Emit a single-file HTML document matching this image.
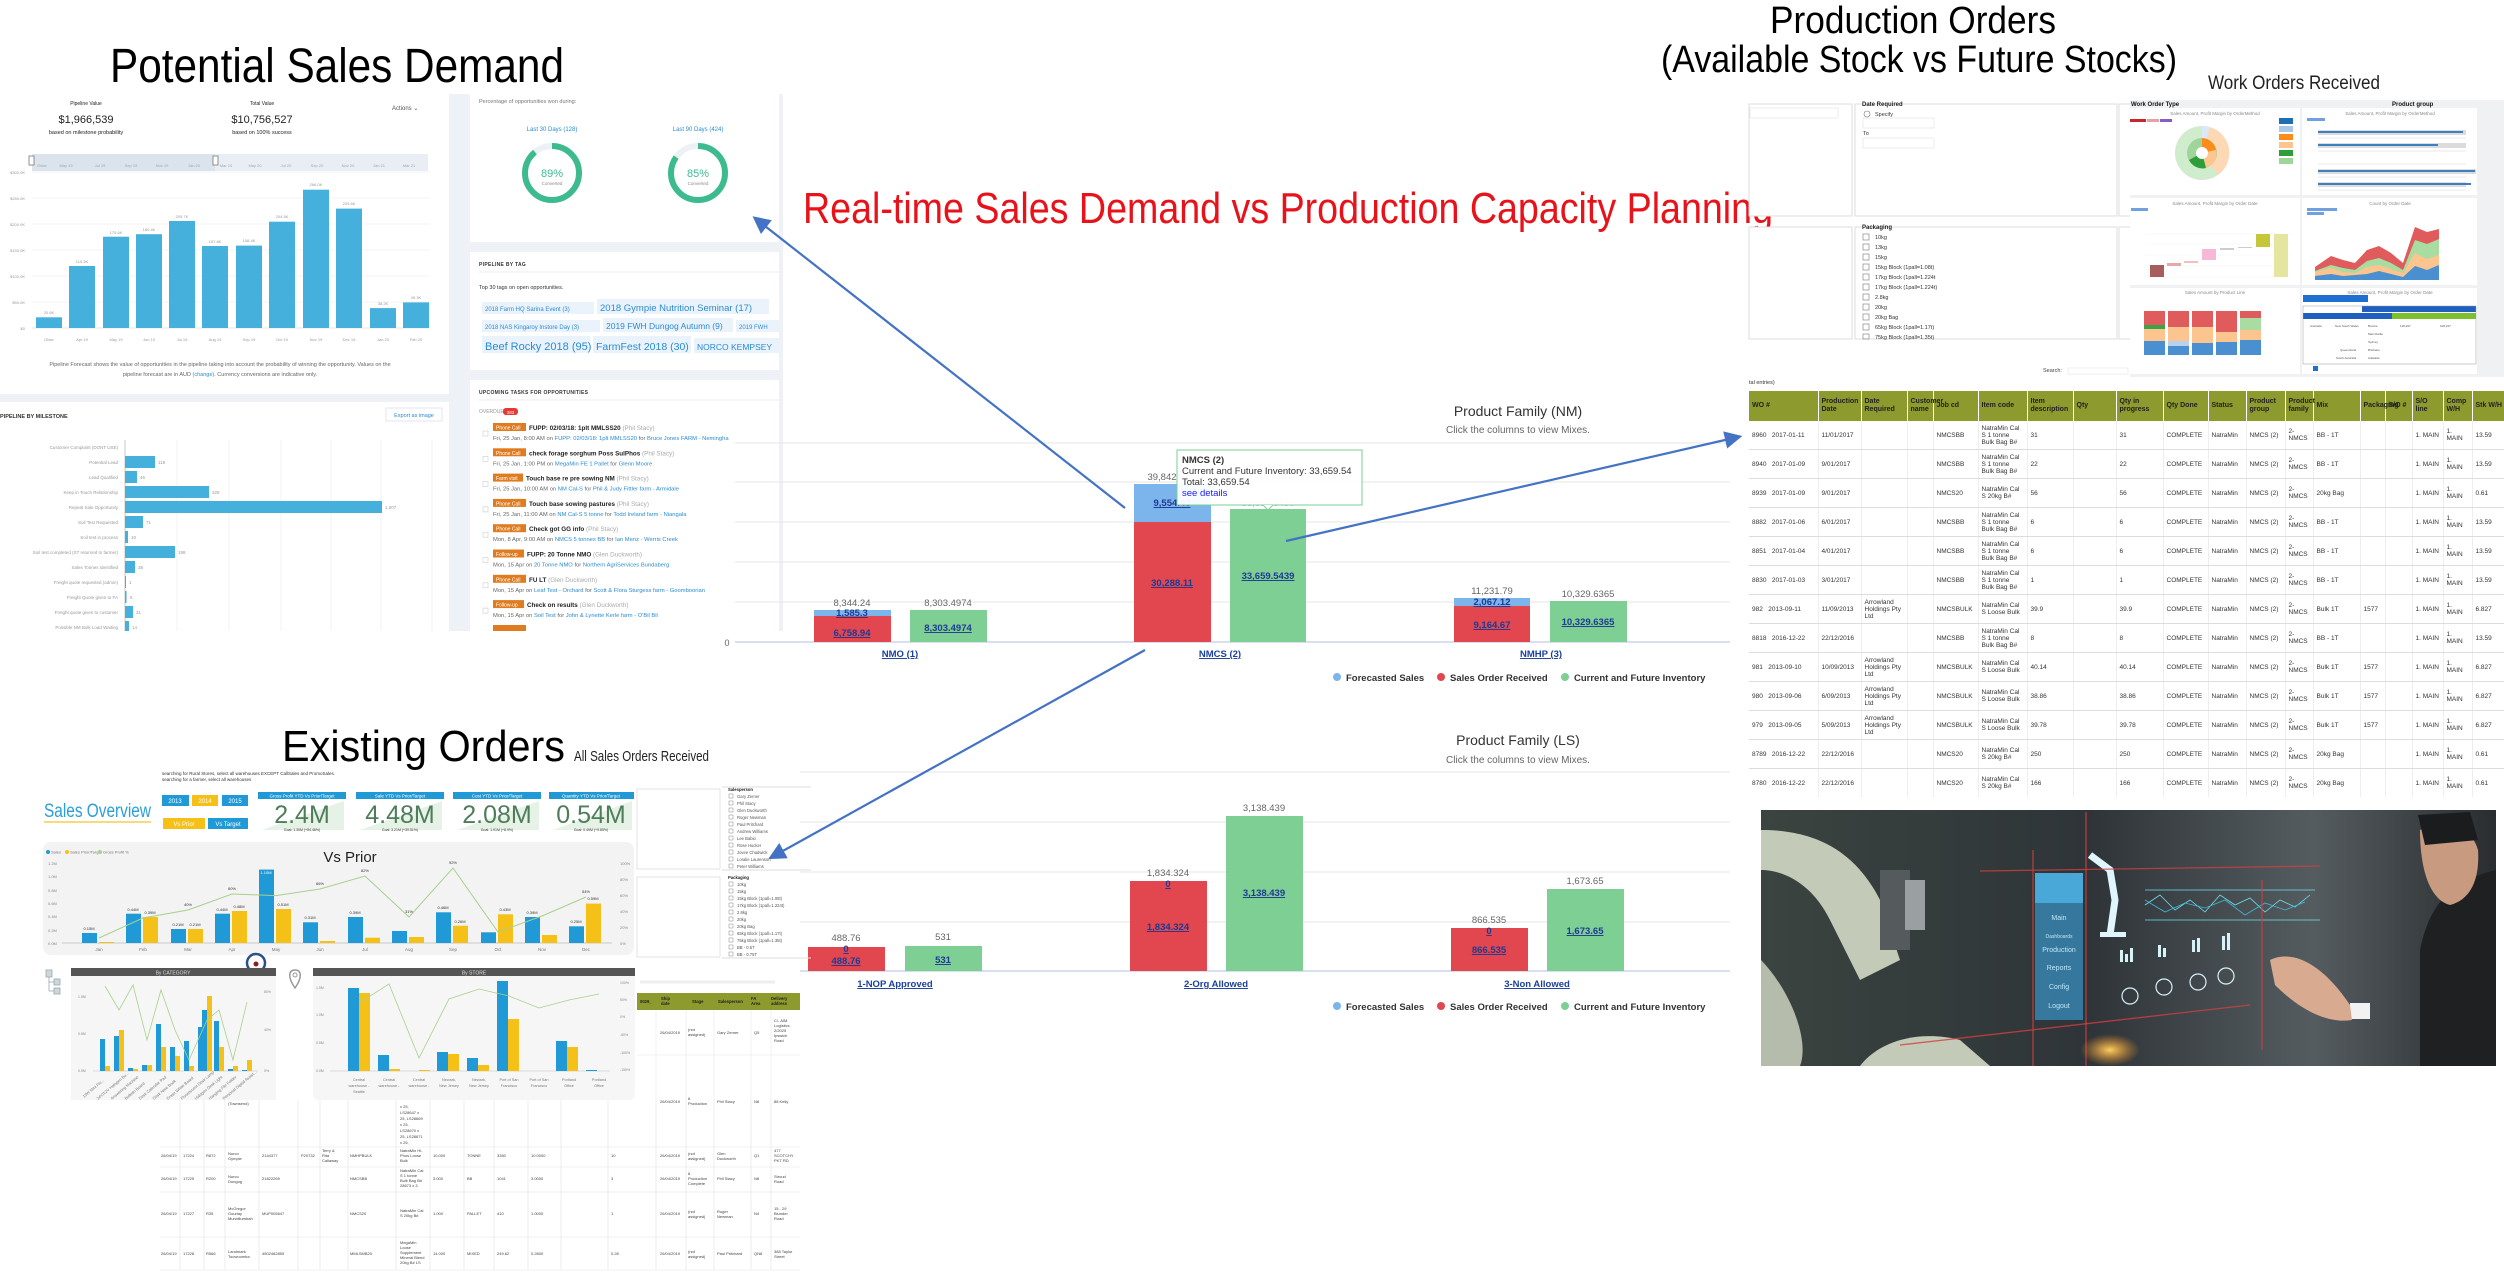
<!DOCTYPE html>
<html><head><meta charset="utf-8"><style>
html,body{margin:0;padding:0;background:#fff;}
body{width:2504px;height:1282px;position:relative;overflow:hidden;font-family:"Liberation Sans",sans-serif;}
svg{position:absolute;left:0;top:0;}
.wo{position:absolute;left:1749px;top:391px;width:755px;height:406px;overflow:hidden;}
.wo table{border-collapse:collapse;table-layout:fixed;width:758px;font-size:6.5px;color:#333;}
.wo th{background:#8c9a2e;color:#222;height:30px;font-weight:bold;text-align:left;padding:0 3px;border-right:1px solid #fff;font-size:7px;line-height:8px;}
.wo td{height:28px;border-bottom:1px solid #ddd;border-right:1px solid #eee;padding:0 3px;line-height:7px;}
</style></head><body>
<svg width="2504" height="1282" viewBox="0 0 2504 1282" font-family="Liberation Sans, sans-serif">
<!-- ======= TITLES ======= -->
<text x="110" y="82" font-size="48" textLength="454" lengthAdjust="spacingAndGlyphs" fill="#000">Potential Sales Demand</text>
<text x="1770" y="33" font-size="38" textLength="286" lengthAdjust="spacingAndGlyphs" fill="#000">Production Orders</text>
<text x="1661" y="72" font-size="38" textLength="516" lengthAdjust="spacingAndGlyphs" fill="#000">(Available Stock vs Future Stocks)</text>
<text x="2208" y="89" font-size="19" textLength="172" lengthAdjust="spacingAndGlyphs" fill="#222">Work Orders Received</text>
<text x="803" y="223" font-size="44" textLength="970" lengthAdjust="spacingAndGlyphs" fill="#e8131a">Real-time Sales Demand vs Production Capacity Planning</text>
<text x="282" y="761" font-size="44" textLength="283" lengthAdjust="spacingAndGlyphs" fill="#000">Existing Orders</text>
<text x="574" y="761" font-size="15" textLength="135" lengthAdjust="spacingAndGlyphs" fill="#222">All Sales Orders Received</text>

<!-- ======= TOP LEFT DASHBOARD ======= -->
<rect x="0" y="94" width="783" height="537" fill="#eef1f6"/>
<rect x="0" y="94" width="449" height="300" fill="#fff"/>
<rect x="0" y="402" width="449" height="229" fill="#fff"/>
<rect x="470" y="94" width="309" height="148" fill="#fff"/>
<rect x="470" y="252" width="309" height="118" fill="#fff"/>
<rect x="470" y="380" width="309" height="251" fill="#fff"/>
<g text-anchor="middle" fill="#222">
<text x="86" y="105" font-size="5">Pipeline Value</text>
<text x="86" y="123" font-size="11">$1,966,539</text>
<text x="86" y="134" font-size="5.5">based on milestone probability</text>
<text x="262" y="105" font-size="5">Total Value</text>
<text x="262" y="123" font-size="11">$10,756,527</text>
<text x="262" y="134" font-size="5.5">based on 100% success</text>
</g>
<text x="392" y="110" font-size="6" fill="#555">Actions ⌄</text>
<rect x="32" y="154" width="396" height="17" fill="#e9eef4"/>
<rect x="32" y="154" width="183" height="17" fill="#dbe3ed"/>
<rect x="29" y="156" width="5" height="9" fill="#fff" stroke="#777" stroke-width="0.8"/>
<rect x="213" y="156" width="5" height="9" fill="#fff" stroke="#777" stroke-width="0.8"/>
<g font-size="4" fill="#9aa" text-anchor="middle">
<text x="42" y="167">Older</text><text x="66" y="167">May 19</text><text x="100" y="167">Jul 19</text><text x="131" y="167">Sep 19</text><text x="162" y="167">Nov 19</text><text x="194" y="167">Jan 20</text><text x="226" y="167">Mar 20</text><text x="255" y="167">May 20</text><text x="286" y="167">Jul 20</text><text x="317" y="167">Sep 20</text><text x="348" y="167">Nov 20</text><text x="379" y="167">Jan 21</text><text x="409" y="167">Mar 21</text>
</g>
<g stroke="#eceff3" stroke-width="0.7">
<line x1="32" y1="172" x2="430" y2="172"/><line x1="32" y1="198" x2="430" y2="198"/><line x1="32" y1="224" x2="430" y2="224"/><line x1="32" y1="250" x2="430" y2="250"/><line x1="32" y1="276" x2="430" y2="276"/><line x1="32" y1="302" x2="430" y2="302"/><line x1="32" y1="328" x2="430" y2="328" stroke="#ddd"/>
</g>
<g font-size="4" fill="#999" text-anchor="end">
<text x="25" y="174">$300.0K</text><text x="25" y="200">$250.0K</text><text x="25" y="226">$200.0K</text><text x="25" y="252">$150.0K</text><text x="25" y="278">$100.0K</text><text x="25" y="304">$50.0K</text><text x="25" y="330">$0</text>
</g>
<g fill="#45b0dc">
<rect x="36" y="317.3" width="26" height="10.7"/><rect x="69" y="266" width="26" height="62"/><rect x="103" y="236.7" width="26" height="91.3"/><rect x="136" y="234.2" width="26" height="93.8"/><rect x="169" y="221" width="26" height="107"/><rect x="202" y="246" width="26" height="82"/><rect x="236" y="245.6" width="26" height="82.4"/><rect x="269" y="221.7" width="26" height="106.3"/><rect x="303" y="189.7" width="26" height="138.3"/><rect x="336" y="208.6" width="26" height="119.4"/><rect x="370" y="308.1" width="26" height="19.9"/><rect x="403" y="302.4" width="26" height="25.6"/>
</g>
<g font-size="4" fill="#999" text-anchor="middle">
<text x="49" y="314">20.6K</text><text x="82" y="263">119.3K</text><text x="116" y="234">175.6K</text><text x="149" y="231">180.4K</text><text x="182" y="218">205.7K</text><text x="215" y="243">157.8K</text><text x="249" y="242">158.4K</text><text x="282" y="218">204.5K</text><text x="316" y="186">266.0K</text><text x="349" y="205">229.6K</text><text x="383" y="305">38.2K</text><text x="416" y="299">49.3K</text>
<text x="49" y="341">Older</text><text x="82" y="341">Apr 19</text><text x="116" y="341">May 19</text><text x="149" y="341">Jun 19</text><text x="182" y="341">Jul 19</text><text x="215" y="341">Aug 19</text><text x="249" y="341">Sep 19</text><text x="282" y="341">Oct 19</text><text x="316" y="341">Nov 19</text><text x="349" y="341">Dec 19</text><text x="383" y="341">Jan 20</text><text x="416" y="341">Feb 20</text>
</g>
<text x="220" y="366" font-size="5.5" fill="#666" text-anchor="middle">Pipeline Forecast shows the value of opportunities in the pipeline taking into account the probability of winning the opportunity. Values on the</text>
<text x="220" y="376" font-size="5.5" fill="#666" text-anchor="middle">pipeline forecast are in AUD <tspan fill="#2a8bd1">(change)</tspan>. Currency conversions are indicative only.</text>
<text x="0" y="418" font-size="5.5" font-weight="bold" fill="#333">PIPELINE BY MILESTONE</text>
<rect x="386" y="408" width="56" height="13" fill="#fff" stroke="#dde" stroke-width="0.8"/>
<text x="414" y="417" font-size="5.5" fill="#2a8bd1" text-anchor="middle">Export as image</text>
<g stroke="#eceff3" stroke-width="0.7"><line x1="177" y1="440" x2="177" y2="631"/><line x1="229" y1="440" x2="229" y2="631"/><line x1="281" y1="440" x2="281" y2="631"/><line x1="331" y1="440" x2="331" y2="631"/><line x1="381" y1="440" x2="381" y2="631"/><line x1="432" y1="440" x2="432" y2="631"/></g>
<line x1="125" y1="440" x2="125" y2="631" stroke="#bbb" stroke-width="0.8"/>
<g font-size="4.5" fill="#999" text-anchor="end">
<text x="118" y="449">Customer Complaint (DONT USE)</text><text x="118" y="464">Potential Lead</text><text x="118" y="479">Lead Qualified</text><text x="118" y="494">Keep in Touch Relationship</text><text x="118" y="509">Repeat Sale Opportunity</text><text x="118" y="524">Soil Test Requested</text><text x="118" y="539">Soil test in process</text><text x="118" y="554">Soil test completed (ST returned to farmer)</text><text x="118" y="569">Sales Tonnes Identified</text><text x="118" y="584">Freight quote requested (admin)</text><text x="118" y="599">Freight Quote given to FA</text><text x="118" y="614">Freight quote given to customer</text><text x="118" y="629">Possible NM Bulk Load Waiting</text>
</g>
<g fill="#45b0dc">
<rect x="125" y="456" width="30" height="12"/><rect x="125" y="471" width="12" height="12"/><rect x="125" y="486" width="84" height="12"/><rect x="125" y="501" width="257" height="12"/><rect x="125" y="516" width="18" height="12"/><rect x="125" y="531" width="3" height="12"/><rect x="125" y="546" width="50" height="12"/><rect x="125" y="561" width="10" height="12"/><rect x="125" y="576" width="1" height="12"/><rect x="125" y="591" width="1.5" height="12"/><rect x="125" y="606" width="8" height="12"/><rect x="125" y="621" width="4" height="10"/>
</g>
<g font-size="4.5" fill="#999"><text x="158" y="464">118</text><text x="140" y="479">46</text><text x="212" y="494">328</text><text x="385" y="509">1,007</text><text x="146" y="524">71</text><text x="131" y="539">10</text><text x="178" y="554">198</text><text x="138" y="569">38</text><text x="129" y="584">1</text><text x="130" y="599">5</text><text x="136" y="614">31</text><text x="132" y="629">14</text></g>
<!-- right column -->
<text x="479" y="103" font-size="5.5" fill="#777">Percentage of opportunities won during:</text>
<text x="552" y="131" font-size="6" fill="#2a8bd1" text-anchor="middle">Last 30 Days (128)</text>
<text x="698" y="131" font-size="6" fill="#2a8bd1" text-anchor="middle">Last 90 Days (424)</text>
<circle cx="552" cy="173" r="27" fill="none" stroke="#edf1f5" stroke-width="6"/>
<circle cx="552" cy="173" r="27" fill="none" stroke="#3dbb8f" stroke-width="6" stroke-dasharray="151 170" transform="rotate(-90 552 173)"/>
<circle cx="698" cy="173" r="27" fill="none" stroke="#edf1f5" stroke-width="6"/>
<circle cx="698" cy="173" r="27" fill="none" stroke="#3dbb8f" stroke-width="6" stroke-dasharray="144 170" transform="rotate(-90 698 173)"/>
<text x="552" y="177" font-size="11" fill="#3dbb8f" text-anchor="middle">89%</text><text x="552" y="185" font-size="4.5" fill="#888" text-anchor="middle">Converted</text>
<text x="698" y="177" font-size="11" fill="#3dbb8f" text-anchor="middle">85%</text><text x="698" y="185" font-size="4.5" fill="#888" text-anchor="middle">Converted</text>
<text x="479" y="266" font-size="5" font-weight="bold" fill="#333" letter-spacing="0.3">PIPELINE BY TAG</text>
<line x1="479" y1="272" x2="779" y2="272" stroke="#eee"/>
<text x="479" y="289" font-size="5.5" fill="#333">Top 30 tags on open opportunities.</text>
<g fill="#eaf3fb"><rect x="482" y="302" width="112" height="12"/><rect x="597" y="299" width="172" height="15"/><rect x="482" y="320" width="118" height="12"/><rect x="603" y="318" width="130" height="14"/><rect x="736" y="320" width="43" height="12"/><rect x="482" y="336" width="108" height="17"/><rect x="593" y="336" width="98" height="17"/><rect x="694" y="338" width="85" height="15"/></g>
<g fill="#2a8bd1"><text x="485" y="311" font-size="6">2018 Farm HQ Sarina Event (3)</text><text x="600" y="311" font-size="9.5">2018 Gympie Nutrition Seminar (17)</text><text x="485" y="329" font-size="6">2018 NAS Kingaroy Instore Day (3)</text><text x="606" y="329" font-size="8.5">2019 FWH Dungog Autumn (9)</text><text x="739" y="329" font-size="6">2019 FWH</text><text x="485" y="350" font-size="11">Beef Rocky 2018 (95)</text><text x="596" y="350" font-size="10.5">FarmFest 2018 (30)</text><text x="697" y="350" font-size="8.5">NORCO KEMPSEY</text></g>
<text x="479" y="394" font-size="5" font-weight="bold" fill="#333" letter-spacing="0.3">UPCOMING TASKS FOR OPPORTUNITIES</text>
<line x1="479" y1="400" x2="779" y2="400" stroke="#eee"/>
<text x="479" y="413" font-size="5" fill="#999">OVERDUE</text><rect x="503" y="408" width="15" height="7" rx="3" fill="#e53935"/><text x="510.5" y="414" font-size="4.5" fill="#fff" text-anchor="middle">283</text>
<g font-size="6.3">
<g transform="translate(0,0)"><rect x="483" y="431" width="5" height="5" fill="none" stroke="#ccc" stroke-width="0.6"/><rect x="493" y="423" width="33" height="8" fill="#e07b1f"/><text x="496" y="429.5" font-size="5" fill="#fff">Phone Call</text><text x="529" y="430" font-weight="bold" fill="#222">FUPP: 02/03/18: 1plt MMLSS20 <tspan font-weight="normal" fill="#aaa">(Phil Stacy)</tspan></text><text x="493" y="440" font-size="5.8" fill="#666">Fri, 25 Jan, 8:00 AM on <tspan fill="#2a8bd1">FUPP: 02/03/18: 1plt MMLSS20</tspan> for <tspan fill="#2a8bd1">Bruce Jones FARM - Nemingha</tspan></text></g>
<g transform="translate(0,25.3)"><rect x="483" y="431" width="5" height="5" fill="none" stroke="#ccc" stroke-width="0.6"/><rect x="493" y="423" width="33" height="8" fill="#e07b1f"/><text x="496" y="429.5" font-size="5" fill="#fff">Phone Call</text><text x="529" y="430" font-weight="bold" fill="#222">check forage sorghum Poss SulPhos <tspan font-weight="normal" fill="#aaa">(Phil Stacy)</tspan></text><text x="493" y="440" font-size="5.8" fill="#666">Fri, 25 Jan, 1:00 PM on <tspan fill="#2a8bd1">MegaMin FE 1 Pallet</tspan> for <tspan fill="#2a8bd1">Glenn Moore</tspan></text></g>
<g transform="translate(0,50.6)"><rect x="483" y="431" width="5" height="5" fill="none" stroke="#ccc" stroke-width="0.6"/><rect x="493" y="423" width="30" height="8" fill="#e07b1f"/><text x="496" y="429.5" font-size="5" fill="#fff">Farm visit</text><text x="526" y="430" font-weight="bold" fill="#222">Touch base re pre sowing NM <tspan font-weight="normal" fill="#aaa">(Phil Stacy)</tspan></text><text x="493" y="440" font-size="5.8" fill="#666">Fri, 25 Jan, 10:00 AM on <tspan fill="#2a8bd1">NM Cal-S</tspan> for <tspan fill="#2a8bd1">Phil &amp; Judy Fittler farm - Armidale</tspan></text></g>
<g transform="translate(0,75.9)"><rect x="483" y="431" width="5" height="5" fill="none" stroke="#ccc" stroke-width="0.6"/><rect x="493" y="423" width="33" height="8" fill="#e07b1f"/><text x="496" y="429.5" font-size="5" fill="#fff">Phone Call</text><text x="529" y="430" font-weight="bold" fill="#222">Touch base sowing pastures <tspan font-weight="normal" fill="#aaa">(Phil Stacy)</tspan></text><text x="493" y="440" font-size="5.8" fill="#666">Fri, 25 Jan, 11:00 AM on <tspan fill="#2a8bd1">NM Cal-S 5 tonne</tspan> for <tspan fill="#2a8bd1">Todd Ireland farm - Niangala</tspan></text></g>
<g transform="translate(0,101.2)"><rect x="483" y="431" width="5" height="5" fill="none" stroke="#ccc" stroke-width="0.6"/><rect x="493" y="423" width="33" height="8" fill="#e07b1f"/><text x="496" y="429.5" font-size="5" fill="#fff">Phone Call</text><text x="529" y="430" font-weight="bold" fill="#222">Check got GG info <tspan font-weight="normal" fill="#aaa">(Phil Stacy)</tspan></text><text x="493" y="440" font-size="5.8" fill="#666">Mon, 8 Apr, 9:00 AM on <tspan fill="#2a8bd1">NMCS 5 tonnes BB</tspan> for <tspan fill="#2a8bd1">Ian Menz - Werris Creek</tspan></text></g>
<g transform="translate(0,126.5)"><rect x="483" y="431" width="5" height="5" fill="none" stroke="#ccc" stroke-width="0.6"/><rect x="493" y="423" width="31" height="8" fill="#e07b1f"/><text x="496" y="429.5" font-size="5" fill="#fff">Follow-up</text><text x="527" y="430" font-weight="bold" fill="#222">FUPP: 20 Tonne NMO <tspan font-weight="normal" fill="#aaa">(Glen Duckworth)</tspan></text><text x="493" y="440" font-size="5.8" fill="#666">Mon, 15 Apr on <tspan fill="#2a8bd1">20 Tonne NMO</tspan> for <tspan fill="#2a8bd1">Northern AgriServices Bundaberg</tspan></text></g>
<g transform="translate(0,151.8)"><rect x="483" y="431" width="5" height="5" fill="none" stroke="#ccc" stroke-width="0.6"/><rect x="493" y="423" width="33" height="8" fill="#e07b1f"/><text x="496" y="429.5" font-size="5" fill="#fff">Phone Call</text><text x="529" y="430" font-weight="bold" fill="#222">FU LT <tspan font-weight="normal" fill="#aaa">(Glen Duckworth)</tspan></text><text x="493" y="440" font-size="5.8" fill="#666">Mon, 15 Apr on <tspan fill="#2a8bd1">Leaf Test - Orchard</tspan> for <tspan fill="#2a8bd1">Scott &amp; Flora Sturgess farm - Goomboorian</tspan></text></g>
<g transform="translate(0,177.1)"><rect x="483" y="431" width="5" height="5" fill="none" stroke="#ccc" stroke-width="0.6"/><rect x="493" y="423" width="31" height="8" fill="#e07b1f"/><text x="496" y="429.5" font-size="5" fill="#fff">Follow-up</text><text x="527" y="430" font-weight="bold" fill="#222">Check on results <tspan font-weight="normal" fill="#aaa">(Glen Duckworth)</tspan></text><text x="493" y="440" font-size="5.8" fill="#666">Mon, 15 Apr on <tspan fill="#2a8bd1">Soil Test</tspan> for <tspan fill="#2a8bd1">John &amp; Lynette Kerle farm - O'Bil Bil</tspan></text></g>
<rect x="493" y="625" width="33" height="6" fill="#e07b1f"/>
</g>

<!-- ======= MIDDLE NM CHART ======= -->
<text x="1518" y="416" font-size="14" fill="#333" text-anchor="middle">Product Family (NM)</text>
<text x="1518" y="433" font-size="10" fill="#666" text-anchor="middle">Click the columns to view Mixes.</text>
<g stroke="#e6e6e6" stroke-width="1"><line x1="735" y1="443" x2="1730" y2="443"/><line x1="735" y1="482" x2="1730" y2="482"/><line x1="735" y1="522" x2="1730" y2="522"/><line x1="735" y1="562" x2="1730" y2="562"/><line x1="735" y1="602" x2="1730" y2="602"/></g>
<line x1="735" y1="642" x2="1730" y2="642" stroke="#ccd6eb" stroke-width="1.5"/>
<text x="727" y="646" font-size="9" fill="#666" text-anchor="middle">0</text>
<rect x="814" y="610" width="77" height="6" fill="#7cb5ec"/><rect x="814" y="616" width="77" height="26" fill="#e2464f"/><rect x="910" y="610" width="77" height="32" fill="#7ecf94"/>
<rect x="1134" y="484" width="77" height="38" fill="#7cb5ec"/><rect x="1134" y="522" width="77" height="120" fill="#e2464f"/><rect x="1230" y="509" width="76" height="133" fill="#7ecf94"/>
<rect x="1454" y="598" width="76" height="8" fill="#7cb5ec"/><rect x="1454" y="606" width="76" height="36" fill="#e2464f"/><rect x="1550" y="601" width="77" height="41" fill="#7ecf94"/>
<g font-size="9.5" fill="#666" text-anchor="middle">
<text x="852" y="606">8,344.24</text><text x="948" y="606">8,303.4974</text><text x="1162" y="480">39,842</text><text x="1268" y="506" fill="#bbb">33,659.5439</text><text x="1492" y="594">11,231.79</text><text x="1588" y="597">10,329.6365</text>
</g>
<g font-size="9.5" fill="#1f3a93" text-anchor="middle" font-weight="bold" text-decoration="underline">
<text x="852" y="616">1,585.3</text><text x="852" y="636">6,758.94</text><text x="948" y="631">8,303.4974</text>
<text x="1172" y="506">9,554.43</text><text x="1172" y="586">30,288.11</text><text x="1268" y="579">33,659.5439</text>
<text x="1492" y="605">2,067.12</text><text x="1492" y="628">9,164.67</text><text x="1588" y="625">10,329.6365</text>
</g>
<g font-size="9.5" fill="#1a3f9c" text-anchor="middle" text-decoration="underline" font-weight="bold">
<text x="900" y="657">NMO (1)</text><text x="1220" y="657">NMCS (2)</text><text x="1541" y="657">NMHP (3)</text>
</g>
<g font-size="9.5" fill="#333" font-weight="bold">
<circle cx="1337" cy="677" r="4" fill="#7cb5ec"/><text x="1346" y="681">Forecasted Sales</text>
<circle cx="1441" cy="677" r="4" fill="#e2464f"/><text x="1450" y="681">Sales Order Received</text>
<circle cx="1565" cy="677" r="4" fill="#7ecf94"/><text x="1574" y="681">Current and Future Inventory</text>
</g>
<rect x="1177" y="450" width="185" height="55" fill="#fff" fill-opacity="0.95" stroke="#7ecf94" stroke-width="1"/>
<path d="M1263 505 L1268 510 L1273 505" fill="#fff" stroke="#7ecf94"/>
<g font-size="9.5" fill="#333"><text x="1182" y="463" font-weight="bold">NMCS (2)</text><text x="1182" y="474">Current and Future Inventory: 33,659.54</text><text x="1182" y="485">Total: 33,659.54</text><text x="1182" y="496" fill="#1a1aff">see details</text></g>

<!-- ======= MIDDLE LS CHART ======= -->
<text x="1518" y="745" font-size="14" fill="#333" text-anchor="middle">Product Family (LS)</text>
<text x="1518" y="763" font-size="10" fill="#666" text-anchor="middle">Click the columns to view Mixes.</text>
<g stroke="#e6e6e6" stroke-width="1"><line x1="800" y1="772" x2="1730" y2="772"/><line x1="800" y1="822" x2="1730" y2="822"/><line x1="800" y1="872" x2="1730" y2="872"/><line x1="800" y1="922" x2="1730" y2="922"/></g>
<line x1="800" y1="971" x2="1730" y2="971" stroke="#ccd6eb" stroke-width="1.5"/>
<rect x="808" y="947" width="77" height="24" fill="#e2464f"/><rect x="905" y="946" width="77" height="25" fill="#7ecf94"/>
<rect x="1130" y="881" width="77" height="90" fill="#e2464f"/><rect x="1226" y="816" width="77" height="155" fill="#7ecf94"/>
<rect x="1451" y="928" width="77" height="43" fill="#e2464f"/><rect x="1547" y="889" width="77" height="82" fill="#7ecf94"/>
<g font-size="9.5" fill="#666" text-anchor="middle">
<text x="846" y="941">488.76</text><text x="943" y="940">531</text><text x="1168" y="876">1,834.324</text><text x="1264" y="811">3,138.439</text><text x="1489" y="923">866.535</text><text x="1585" y="884">1,673.65</text>
</g>
<g font-size="9.5" fill="#1f3a93" text-anchor="middle" font-weight="bold" text-decoration="underline">
<text x="846" y="952">0</text><text x="846" y="964">488.76</text><text x="943" y="963">531</text>
<text x="1168" y="887">0</text><text x="1168" y="930">1,834.324</text><text x="1264" y="896">3,138.439</text>
<text x="1489" y="934">0</text><text x="1489" y="953">866.535</text><text x="1585" y="934">1,673.65</text>
</g>
<g font-size="9.5" fill="#1a3f9c" text-anchor="middle" text-decoration="underline" font-weight="bold">
<text x="895" y="987">1-NOP Approved</text><text x="1216" y="987">2-Org Allowed</text><text x="1537" y="987">3-Non Allowed</text>
</g>
<g font-size="9.5" fill="#333" font-weight="bold">
<circle cx="1337" cy="1006" r="4" fill="#7cb5ec"/><text x="1346" y="1010">Forecasted Sales</text>
<circle cx="1441" cy="1006" r="4" fill="#e2464f"/><text x="1450" y="1010">Sales Order Received</text>
<circle cx="1565" cy="1006" r="4" fill="#7ecf94"/><text x="1574" y="1010">Current and Future Inventory</text>
</g>

<!-- ======= EXISTING ORDERS DASHBOARD ======= -->
<text x="162" y="775" font-size="4.5" fill="#333">searching for Rural Stores, select all warehouses EXCEPT CallSales and PromoSales.</text>
<text x="162" y="781" font-size="4.5" fill="#333">searching for a farmer, select all warehouses</text>
<text x="44" y="817" font-size="19" fill="#2a9fd8" textLength="107" lengthAdjust="spacingAndGlyphs">Sales Overview</text>
<line x1="44" y1="822" x2="151" y2="822" stroke="#f4c430" stroke-width="1.2"/>
<rect x="162" y="795" width="27" height="11" fill="#1f9ad6"/><rect x="192" y="795" width="26" height="11" fill="#f5c018"/><rect x="222" y="795" width="26" height="11" fill="#1f9ad6"/>
<g font-size="6" fill="#fff" text-anchor="middle"><text x="175" y="803">2013</text><text x="205" y="803">2014</text><text x="235" y="803">2015</text></g>
<rect x="163" y="818" width="42" height="11" fill="#f5c018"/><rect x="208" y="818" width="40" height="11" fill="#1f9ad6"/>
<g font-size="6" fill="#fff" text-anchor="middle"><text x="184" y="826">Vs Prior</text><text x="228" y="826">Vs Target</text></g>
<g>
<rect x="258" y="792" width="88" height="41" fill="#fff"/><rect x="258" y="792" width="88" height="7" fill="#1f9ad6"/><path d="M262 830 L344 830 L344 801 Z" fill="#e6f2e6"/>
<rect x="356" y="792" width="88" height="41" fill="#fff"/><rect x="356" y="792" width="88" height="7" fill="#1f9ad6"/><path d="M360 830 L442 830 L442 801 Z" fill="#e6f2e6"/>
<rect x="453" y="792" width="88" height="41" fill="#fff"/><rect x="453" y="792" width="88" height="7" fill="#1f9ad6"/><path d="M457 830 L539 830 L539 801 Z" fill="#e6f2e6"/>
<rect x="549" y="792" width="85" height="41" fill="#fff"/><rect x="549" y="792" width="85" height="7" fill="#1f9ad6"/><path d="M553 830 L632 830 L632 801 Z" fill="#e6f2e6"/>
<g font-size="4.5" fill="#fff" text-anchor="middle"><text x="302" y="797.5">Gross Profit YTD Vs Prior/Target</text><text x="400" y="797.5">Sale YTD Vs Prior/Target</text><text x="497" y="797.5">Cost YTD Vs Prior/Target</text><text x="591" y="797.5">Quantity YTD Vs Prior/Target</text></g>
<g font-size="25" fill="#4d7d5a" text-anchor="middle"><text x="302" y="823">2.4M</text><text x="400" y="823">4.48M</text><text x="497" y="823">2.08M</text><text x="591" y="823">0.54M</text></g>
<g font-size="3.5" fill="#333" text-anchor="middle"><text x="302" y="831">Goal: 1.30M (+84.46%)</text><text x="400" y="831">Goal: 3.21M (+39.51%)</text><text x="497" y="831">Goal: 1.91M (+8.9%)</text><text x="591" y="831">Goal: 0.49M (+9.85%)</text></g>
</g>
<rect x="43" y="842" width="591" height="113" rx="8" fill="#f3f3f3"/>
<text x="350" y="862" font-size="15" fill="#222" text-anchor="middle">Vs Prior</text>
<g font-size="4" fill="#777"><circle cx="48" cy="852" r="2" fill="#1f9ad6"/><text x="51" y="853.5">Sales</text><circle cx="67" cy="852" r="2" fill="#f5c018"/><text x="70" y="853.5">Sales Prior/Target</text><circle cx="100" cy="852" r="2" fill="#a8d08d"/><text x="103" y="853.5">Gross Profit %</text></g>
<g font-size="4" fill="#888"><text x="48" y="865">1.2M</text><text x="48" y="878">1.0M</text><text x="48" y="892">0.8M</text><text x="48" y="905">0.6M</text><text x="48" y="918">0.4M</text><text x="48" y="932">0.2M</text><text x="48" y="945">0.0M</text>
<text x="620" y="865">100%</text><text x="620" y="881">80%</text><text x="620" y="897">60%</text><text x="620" y="913">40%</text><text x="620" y="929">20%</text><text x="620" y="945">0%</text></g>
<line x1="62" y1="943" x2="612" y2="943" stroke="#bbb" stroke-width="0.8"/>
<g fill="#1f9ad6">
<rect x="82" y="933" width="15" height="10"/><rect x="126" y="913.7" width="15" height="29.3"/><rect x="171" y="929" width="15" height="14"/><rect x="215" y="913.7" width="15" height="29.3"/><rect x="259" y="869.6" width="15" height="73.4"/><rect x="303" y="922.3" width="15" height="20.7"/><rect x="348" y="917" width="15" height="26"/><rect x="392" y="931" width="15" height="12"/><rect x="436" y="912.3" width="15" height="30.7"/><rect x="481" y="932.3" width="15" height="10.7"/><rect x="525" y="917" width="15" height="26"/><rect x="569" y="926.3" width="15" height="16.7"/>
</g>
<g fill="#f5c018">
<rect x="99" y="942" width="15" height="1"/><rect x="143" y="917" width="15" height="26"/><rect x="188" y="929" width="15" height="14"/><rect x="232" y="911" width="15" height="32"/><rect x="276" y="909" width="15" height="34"/><rect x="320" y="941" width="15" height="2"/><rect x="365" y="937.7" width="15" height="5.3"/><rect x="409" y="937" width="15" height="6"/><rect x="453" y="925.7" width="15" height="17.3"/><rect x="498" y="914.3" width="15" height="28.7"/><rect x="542" y="935" width="15" height="8"/><rect x="586" y="903.6" width="15" height="39.4"/>
</g>
<polyline points="99,938 143,918 188,910 232,894 276,895.6 320,889 365,876 409,917 453,868 498,932 542,916 586,897" fill="none" stroke="#a8d08d" stroke-width="1"/>
<g font-size="4" fill="#333" text-anchor="middle"><text x="89" y="930">0.15M</text><text x="133" y="911">0.44M</text><text x="150" y="914">0.39M</text><text x="178" y="926">0.21M</text><text x="195" y="926">0.21M</text><text x="222" y="911">0.44M</text><text x="239" y="908">0.48M</text><text x="266" y="874" fill="#fff">1.10M</text><text x="283" y="906">0.51M</text><text x="310" y="919">0.31M</text><text x="355" y="914">0.39M</text><text x="443" y="909">0.46M</text><text x="460" y="923">0.26M</text><text x="505" y="911">0.43M</text><text x="532" y="914">0.39M</text><text x="576" y="923">0.25M</text><text x="593" y="900">0.59M</text>
<text x="188" y="906">40%</text><text x="232" y="890">60%</text><text x="320" y="885">66%</text><text x="365" y="872">82%</text><text x="409" y="913">31%</text><text x="453" y="864">92%</text><text x="586" y="893">54%</text></g>
<g font-size="4.5" fill="#777" text-anchor="middle"><text x="99" y="951">Jan</text><text x="143" y="951">Feb</text><text x="188" y="951">Mar</text><text x="232" y="951">Apr</text><text x="276" y="951">May</text><text x="320" y="951">Jun</text><text x="365" y="951">Jul</text><text x="409" y="951">Aug</text><text x="453" y="951">Sep</text><text x="498" y="951">Oct</text><text x="542" y="951">Nov</text><text x="586" y="951">Dec</text></g>
<circle cx="256" cy="963" r="9" fill="#fff" stroke="#2c4f8a" stroke-width="2.5"/><circle cx="256" cy="964" r="2.5" fill="#8a2020"/>
<!-- hierarchy icon -->
<g stroke="#9aa" fill="#cfd6dc" stroke-width="0.8"><rect x="46" y="970" width="6" height="7"/><rect x="54" y="979" width="6" height="6"/><rect x="54" y="988" width="6" height="6"/><line x1="49" y1="977" x2="49" y2="991"/><line x1="49" y1="982" x2="54" y2="982"/><line x1="49" y1="991" x2="54" y2="991"/></g>
<path d="M295 988 C288 978 288 970 295 970 C302 970 302 978 295 988 Z" fill="none" stroke="#999" stroke-width="1.5"/><circle cx="295" cy="975" r="2" fill="none" stroke="#999"/>
<!-- category panel -->
<rect x="71" y="968" width="205" height="132" fill="#f6f6f6"/><rect x="71" y="968" width="205" height="8" fill="#555"/>
<text x="173" y="974.5" font-size="5" fill="#ddd" text-anchor="middle">By CATEGORY</text>
<g font-size="3.5" fill="#888"><text x="78" y="998">1.0M</text><text x="78" y="1035">0.5M</text><text x="78" y="1072">0.0M</text><text x="264" y="993">80%</text><text x="264" y="1031">40%</text><text x="264" y="1072">0%</text></g>
<line x1="93" y1="1071" x2="258" y2="1071" stroke="#bbb" stroke-width="0.6"/>
<g fill="#1f9ad6"><rect x="100" y="1039" width="5" height="32"/><rect x="114" y="1036" width="5" height="35"/><rect x="128" y="1068" width="5" height="3"/><rect x="142" y="1065" width="5" height="6"/><rect x="156" y="1024" width="5" height="47"/><rect x="170" y="1047" width="5" height="24"/><rect x="184" y="1041" width="5" height="30"/><rect x="198" y="1027" width="5" height="44"/><rect x="202" y="1010" width="5" height="61"/><rect x="214" y="1021" width="5" height="50"/><rect x="228" y="1069" width="5" height="2"/><rect x="242" y="1070" width="5" height="1"/></g>
<g fill="#f5c018"><rect x="105" y="1066" width="5" height="5"/><rect x="119" y="1030" width="5" height="41"/><rect x="133" y="1069" width="5" height="2"/><rect x="147" y="1065" width="5" height="6"/><rect x="161" y="1047" width="5" height="24"/><rect x="175" y="1056" width="5" height="15"/><rect x="189" y="1066" width="5" height="5"/><rect x="207" y="996" width="5" height="75"/><rect x="219" y="1047" width="5" height="24"/><rect x="233" y="1066" width="5" height="5"/><rect x="247" y="1060" width="5" height="11"/></g>
<polyline points="105,986 119,1010 133,985 147,1040 161,990 175,1030 189,1060 207,1020 219,1010 233,1060 247,1002" fill="none" stroke="#a8d08d" stroke-width="0.8"/>
<g font-size="4" fill="#777" transform="rotate(-40 0 0)"></g>
<g font-size="4" fill="#777"><text transform="translate(84,1098) rotate(-40)">13W Mini Flu...</text><text transform="translate(98,1100) rotate(-40)">24V/12V Halogen Bu...</text><text transform="translate(112,1100) rotate(-40)">Answering Machine</text><text transform="translate(126,1100) rotate(-40)">Bulletin Board</text><text transform="translate(140,1100) rotate(-40)">Desk Calendar Pad</text><text transform="translate(154,1100) rotate(-40)">Desk Note Book</text><text transform="translate(168,1100) rotate(-40)">Erase White Board</text><text transform="translate(182,1100) rotate(-40)">Fluorescent Desk Lamp</text><text transform="translate(196,1100) rotate(-40)">Halogen Desk Light</text><text transform="translate(210,1100) rotate(-40)">Hanging File Folder</text><text transform="translate(224,1100) rotate(-40)">Personal Digital Assist...</text></g>
<!-- store panel -->
<rect x="313" y="968" width="322" height="132" rx="6" fill="#f6f6f6"/><rect x="313" y="968" width="322" height="8" fill="#555"/>
<text x="474" y="974.5" font-size="5" fill="#ddd" text-anchor="middle">By STORE</text>
<g font-size="3.5" fill="#888"><text x="316" y="989">1.5M</text><text x="316" y="1016">1.0M</text><text x="316" y="1044">0.5M</text><text x="316" y="1072">0.0M</text><text x="620" y="984">100%</text><text x="620" y="1001">50%</text><text x="620" y="1018">0%</text><text x="620" y="1036">-50%</text><text x="620" y="1054">-100%</text><text x="620" y="1071">-150%</text></g>
<line x1="330" y1="1071" x2="610" y2="1071" stroke="#bbb" stroke-width="0.6"/>
<g fill="#1f9ad6"><rect x="348" y="988" width="11" height="83"/><rect x="378" y="1055" width="11" height="16"/><rect x="437" y="1052" width="11" height="19"/><rect x="467" y="1058" width="11" height="13"/><rect x="497" y="981" width="11" height="90"/><rect x="556" y="1041" width="11" height="30"/><rect x="586" y="1070" width="11" height="1"/></g>
<g fill="#f5c018"><rect x="359" y="993" width="11" height="78"/><rect x="389" y="1069" width="11" height="2"/><rect x="419" y="1070" width="11" height="1"/><rect x="448" y="1054" width="11" height="17"/><rect x="478" y="1065" width="11" height="6"/><rect x="508" y="1019" width="11" height="52"/><rect x="567" y="1047" width="11" height="24"/></g>
<polyline points="359,1003 389,984 419,1058 449,999 479,989 509,996 539,1008 569,1000 599,994" fill="none" stroke="#a8d08d" stroke-width="0.8"/>
<g font-size="3.8" fill="#777" text-anchor="middle"><text x="359" y="1081">Central</text><text x="359" y="1087">warehouse -</text><text x="359" y="1093">Seattle</text><text x="389" y="1081">Central</text><text x="389" y="1087">warehouse -</text><text x="419" y="1081">Central</text><text x="419" y="1087">warehouse -</text><text x="449" y="1081">Newark,</text><text x="449" y="1087">New Jersey</text><text x="479" y="1081">Newark,</text><text x="479" y="1087">New Jersey</text><text x="509" y="1081">Port of San</text><text x="509" y="1087">Francisco</text><text x="539" y="1081">Port of San</text><text x="539" y="1087">Francisco</text><text x="569" y="1081">Portland</text><text x="569" y="1087">Office</text><text x="599" y="1081">Portland</text><text x="599" y="1087">Office</text></g>
<!-- filter panels -->
<rect x="637" y="789" width="83" height="80" fill="#fff" stroke="#ddd" stroke-width="0.8"/><rect x="637" y="877" width="83" height="80" fill="#fff" stroke="#ddd" stroke-width="0.8"/>
<line x1="722" y1="787" x2="811" y2="787" stroke="#ddd"/><line x1="722" y1="870" x2="811" y2="870" stroke="#ddd"/><line x1="722" y1="958" x2="811" y2="958" stroke="#ddd"/>
<line x1="640" y1="982" x2="775" y2="982" stroke="#eee" stroke-width="3"/>
<g font-size="4.2" fill="#555">
<text x="728" y="791" font-weight="bold" fill="#222">Salesperson</text>
<text x="737" y="798">Gary Zerner</text><text x="737" y="805">Phil Stacy</text><text x="737" y="812">Glen Duckworth</text><text x="737" y="819">Roger Newman</text><text x="737" y="826">Paul Pritchard</text><text x="737" y="833">Andrew Williams</text><text x="737" y="840">Lee Babio</text><text x="737" y="847">Rose Hucker</text><text x="737" y="854">Jovee Chadwick</text><text x="737" y="861">Loralie Laurenson</text><text x="737" y="868">Peter Williams</text>
<text x="728" y="879" font-weight="bold" fill="#222">Packaging</text>
<text x="737" y="886">10kg</text><text x="737" y="893">15kg</text><text x="737" y="900">15kg Block (1pall=1.08t)</text><text x="737" y="907">17kg Block (1pall=1.224t)</text><text x="737" y="914">2.8kg</text><text x="737" y="921">20kg</text><text x="737" y="928">20kg Bag</text><text x="737" y="935">65kg Block (1pall=1.17t)</text><text x="737" y="942">75kg Block (1pall=1.35t)</text><text x="737" y="949">BB - 0.5T</text><text x="737" y="956">BB - 0.75T</text>
</g>
<g fill="none" stroke="#888" stroke-width="0.5">
<rect x="729" y="794" width="4" height="4"/><rect x="729" y="801" width="4" height="4"/><rect x="729" y="808" width="4" height="4"/><rect x="729" y="815" width="4" height="4"/><rect x="729" y="822" width="4" height="4"/><rect x="729" y="829" width="4" height="4"/><rect x="729" y="836" width="4" height="4"/><rect x="729" y="843" width="4" height="4"/><rect x="729" y="850" width="4" height="4"/><rect x="729" y="857" width="4" height="4"/><rect x="729" y="864" width="4" height="4"/>
<rect x="729" y="882" width="4" height="4"/><rect x="729" y="889" width="4" height="4"/><rect x="729" y="896" width="4" height="4"/><rect x="729" y="903" width="4" height="4"/><rect x="729" y="910" width="4" height="4"/><rect x="729" y="917" width="4" height="4"/><rect x="729" y="924" width="4" height="4"/><rect x="729" y="931" width="4" height="4"/><rect x="729" y="938" width="4" height="4"/><rect x="729" y="945" width="4" height="4"/><rect x="729" y="952" width="4" height="4"/>
</g>
<!-- right sub table -->
<rect x="637" y="993" width="163" height="17" fill="#8c9a2e"/>
<g font-size="4.2" fill="#222" font-weight="bold"><text x="640" y="1003">0029_</text><text x="661" y="1000">Ship</text><text x="661" y="1005">date</text><text x="692" y="1003">Stage</text><text x="718" y="1003">Salesperson</text><text x="751" y="1000">FA</text><text x="751" y="1005">Area</text><text x="771" y="1000">Delivery</text><text x="771" y="1005">address</text></g>
<g stroke="#e6e6e6" stroke-width="0.6"><line x1="637" y1="1055" x2="800" y2="1055"/><line x1="656" y1="1010" x2="656" y2="1100"/><line x1="686" y1="1010" x2="686" y2="1100"/><line x1="714" y1="1010" x2="714" y2="1100"/><line x1="751" y1="1010" x2="751" y2="1100"/><line x1="771" y1="1010" x2="771" y2="1100"/></g>
<g font-size="4" fill="#444"><text x="660" y="1034">26/04/2019</text><text x="688" y="1031">(not</text><text x="688" y="1036">assigned)</text><text x="717" y="1034">Gary Zerner</text><text x="754" y="1034">Q5</text><text x="774" y="1022">C/- AIM</text><text x="774" y="1027">Logistics</text><text x="774" y="1032">2/2025</text><text x="774" y="1037">Ipswich</text><text x="774" y="1042">Road</text></g>
<!-- bottom table -->
<g stroke="#e2e2e2" stroke-width="0.6">
<line x1="160" y1="1147" x2="800" y2="1147"/><line x1="160" y1="1167" x2="800" y2="1167"/><line x1="160" y1="1192" x2="800" y2="1192"/><line x1="160" y1="1237" x2="800" y2="1237"/><line x1="160" y1="1270" x2="800" y2="1270"/>
<line x1="180" y1="1100" x2="180" y2="1270"/><line x1="204" y1="1100" x2="204" y2="1270"/><line x1="225" y1="1100" x2="225" y2="1270"/><line x1="259" y1="1100" x2="259" y2="1270"/><line x1="298" y1="1100" x2="298" y2="1270"/><line x1="320" y1="1100" x2="320" y2="1270"/><line x1="348" y1="1100" x2="348" y2="1270"/><line x1="396" y1="1100" x2="396" y2="1270"/><line x1="430" y1="1100" x2="430" y2="1270"/><line x1="464" y1="1100" x2="464" y2="1270"/><line x1="494" y1="1100" x2="494" y2="1270"/><line x1="528" y1="1100" x2="528" y2="1270"/><line x1="561" y1="1100" x2="561" y2="1270"/><line x1="608" y1="1100" x2="608" y2="1270"/><line x1="656" y1="1100" x2="656" y2="1270"/><line x1="686" y1="1100" x2="686" y2="1270"/><line x1="714" y1="1100" x2="714" y2="1270"/><line x1="751" y1="1100" x2="751" y2="1270"/><line x1="771" y1="1100" x2="771" y2="1270"/>
</g>
<g font-size="4" fill="#444">
<text x="228" y="1105">(Townsend)</text><text x="400" y="1108">x 25,</text><text x="400" y="1114">LS28647 x</text><text x="400" y="1120">25, LS28669</text><text x="400" y="1126">x 25,</text><text x="400" y="1132">LS28670 x</text><text x="400" y="1138">25, LS28671</text><text x="400" y="1144">x 25,</text><text x="660" y="1103">26/04/2019</text><text x="688" y="1100">6.</text><text x="688" y="1105">Production</text><text x="717" y="1103">Phil Stacy</text><text x="754" y="1103">N8</text><text x="774" y="1103">88 Kelly</text>
<text x="161" y="1157">26/04/19</text><text x="183" y="1157">17224</text><text x="206" y="1157">R872</text><text x="228" y="1155">Norco</text><text x="228" y="1160">Gympie</text><text x="262" y="1157">2144377</text><text x="301" y="1157">P20732</text><text x="322" y="1152">Terry &amp;</text><text x="322" y="1157">Rita</text><text x="322" y="1162">Callaway</text><text x="350" y="1157">NMHPBULK</text><text x="400" y="1152">NatraMin Hi-</text><text x="400" y="1157">Phos Loose</text><text x="400" y="1162">Bulk</text><text x="433" y="1157">10.000</text><text x="467" y="1157">TONNE</text><text x="497" y="1157">3350</text><text x="531" y="1157">10.0000</text><text x="611" y="1157">10</text><text x="660" y="1157">26/04/2019</text><text x="688" y="1155">(not</text><text x="688" y="1160">assigned)</text><text x="717" y="1155">Glen</text><text x="717" y="1160">Duckworth</text><text x="754" y="1157">Q1</text><text x="774" y="1152">477</text><text x="774" y="1157">SCOTCHY</text><text x="774" y="1162">PKT RD</text>
<text x="161" y="1180">26/04/19</text><text x="183" y="1180">17225</text><text x="206" y="1180">R200</text><text x="228" y="1178">Norco</text><text x="228" y="1183">Dungog</text><text x="262" y="1180">21822269</text><text x="350" y="1180">NMCSBB</text><text x="400" y="1172">NatraMin Cal</text><text x="400" y="1177">S 1 tonne</text><text x="400" y="1182">Bulk Bag B#</text><text x="400" y="1187">28673 x 3</text><text x="433" y="1180">3.000</text><text x="467" y="1180">BB</text><text x="497" y="1180">1041</text><text x="531" y="1180">3.0000</text><text x="611" y="1180">3</text><text x="660" y="1180">26/04/2019</text><text x="688" y="1175">6.</text><text x="688" y="1180">Production</text><text x="688" y="1185">Complete</text><text x="717" y="1180">Phil Stacy</text><text x="754" y="1180">N8</text><text x="774" y="1178">Stroud</text><text x="774" y="1183">Road</text>
<text x="161" y="1215">26/04/19</text><text x="183" y="1215">17227</text><text x="206" y="1215">R35</text><text x="228" y="1210">McGregor</text><text x="228" y="1215">Gourlay</text><text x="228" y="1220">Murwillumbah</text><text x="262" y="1215">MUP005647</text><text x="350" y="1215">NMCS20</text><text x="400" y="1212">NatraMin Cal</text><text x="400" y="1217">S 20kg B#</text><text x="433" y="1215">1.000</text><text x="467" y="1215">PALLET</text><text x="497" y="1215">410</text><text x="531" y="1215">1.0000</text><text x="611" y="1215">1</text><text x="660" y="1215">26/04/2019</text><text x="688" y="1213">(not</text><text x="688" y="1218">assigned)</text><text x="717" y="1213">Roger</text><text x="717" y="1218">Newman</text><text x="754" y="1215">N4</text><text x="774" y="1210">15 - 29</text><text x="774" y="1215">Blunder</text><text x="774" y="1220">Road</text>
<text x="161" y="1255">26/04/19</text><text x="183" y="1255">17228</text><text x="206" y="1255">R566</text><text x="228" y="1253">Landmark</text><text x="228" y="1258">Toowoomba</text><text x="262" y="1255">4502482859</text><text x="350" y="1255">MMLSMB20</text><text x="400" y="1244">MegaMin</text><text x="400" y="1249">Loose</text><text x="400" y="1254">Supplement</text><text x="400" y="1259">Mineral Blend</text><text x="400" y="1264">20kg B# LS</text><text x="433" y="1255">14.000</text><text x="467" y="1255">MIXED</text><text x="497" y="1255">249.62</text><text x="531" y="1255">0.2800</text><text x="611" y="1255">0.28</text><text x="660" y="1255">26/04/2019</text><text x="688" y="1253">(not</text><text x="688" y="1258">assigned)</text><text x="717" y="1255">Paul Pritchard</text><text x="754" y="1255">QN8</text><text x="774" y="1253">388 Taylor</text><text x="774" y="1258">Street</text>
</g>

<!-- ======= TOP RIGHT FILTERS + DASHBOARD ======= -->
<rect x="1749" y="104" width="103" height="112" fill="#fff" stroke="#ddd"/>
<rect x="1750" y="108" width="88" height="10" fill="#fff" stroke="#e4e4e4" stroke-width="0.7"/>
<rect x="1855" y="104" width="262" height="112" fill="#fff" stroke="#ddd"/>
<rect x="1749" y="227" width="103" height="112" fill="#fff" stroke="#ddd"/>
<rect x="1855" y="227" width="262" height="112" fill="#fff" stroke="#ddd"/>
<rect x="2119" y="104" width="12" height="112" fill="#fff" stroke="#ddd"/><rect x="2119" y="227" width="12" height="112" fill="#fff" stroke="#ddd"/>
<text x="1862" y="106" font-size="6" font-weight="bold" fill="#222">Date Required</text>
<circle cx="1867" cy="114" r="3" fill="none" stroke="#777" stroke-width="0.6"/><text x="1875" y="116" font-size="5.5" fill="#333">Specify</text>
<rect x="1863" y="118" width="71" height="10" fill="#fff" stroke="#e4e4e4" stroke-width="0.7"/>
<text x="1863" y="135" font-size="5.5" fill="#333">To</text>
<rect x="1863" y="138" width="71" height="10" fill="#fff" stroke="#e4e4e4" stroke-width="0.7"/>
<text x="1862" y="229" font-size="6" font-weight="bold" fill="#222">Packaging</text>
<g font-size="5.5" fill="#333">
<text x="1875" y="239">10kg</text><text x="1875" y="249">13kg</text><text x="1875" y="259">15kg</text><text x="1875" y="269">15kg Block (1pall=1.08t)</text><text x="1875" y="279">17kg Block (1pall=1.224t</text><text x="1875" y="289">17kg Block (1pall=1.224t)</text><text x="1875" y="299">2.8kg</text><text x="1875" y="309">20kg</text><text x="1875" y="319">20kg Bag</text><text x="1875" y="329">65kg Block (1pall=1.17t)</text><text x="1875" y="339">75kg Block (1pall=1.35t)</text>
</g>
<g fill="none" stroke="#777" stroke-width="0.6"><rect x="1863" y="234" width="6" height="6"/><rect x="1863" y="244" width="6" height="6"/><rect x="1863" y="254" width="6" height="6"/><rect x="1863" y="264" width="6" height="6"/><rect x="1863" y="274" width="6" height="6"/><rect x="1863" y="284" width="6" height="6"/><rect x="1863" y="294" width="6" height="6"/><rect x="1863" y="304" width="6" height="6"/><rect x="1863" y="314" width="6" height="6"/><rect x="1863" y="324" width="6" height="6"/><rect x="1863" y="334" width="6" height="5"/></g>
<text x="2043" y="372" font-size="5.5" fill="#444">Search:</text><rect x="2068" y="368" width="60" height="6" fill="#fff" stroke="#e4e4e4" stroke-width="0.6"/>
<text x="1749" y="384" font-size="5.5" fill="#333">tal entries)</text>
<!-- dashboard -->
<rect x="2130" y="100" width="374" height="277" fill="#f0f1f3"/>
<text x="2131" y="106" font-size="6" font-weight="bold" fill="#111">Work Order Type</text>
<text x="2392" y="106" font-size="6" font-weight="bold" fill="#111">Product group</text>
<g fill="#fff"><rect x="2130" y="108" width="170" height="87"/><rect x="2302" y="108" width="175" height="87"/><rect x="2130" y="198" width="170" height="87"/><rect x="2302" y="198" width="175" height="87"/><rect x="2130" y="288" width="170" height="86"/><rect x="2302" y="288" width="175" height="86"/></g>
<g font-size="4.5" fill="#888" text-anchor="middle"><text x="2215" y="115">Sales Amount, Profit Margin by OrderMethod</text><text x="2390" y="115">Sales Amount, Profit Margin by OrderMethod</text><text x="2215" y="205">Sales Amount, Profit Margin by Order Date</text><text x="2390" y="205">Count by Order Date</text><text x="2215" y="294">Sales Amount by Product Line</text><text x="2390" y="294">Sales Amount, Profit Margin by Order Date</text></g>
<!-- sunburst -->
<rect x="2130" y="119" width="16" height="3" fill="#c8262c"/><rect x="2147" y="119" width="12" height="3" fill="#e8a0a8"/><rect x="2160" y="119" width="12" height="3" fill="#8a5cc0"/>
<circle cx="2202" cy="153" r="27" fill="#cfeccc"/>
<path d="M2202 153 L2202 126 A27 27 0 0 1 2218 175 Z" fill="#fcd9b4"/>
<path d="M2202 153 L2202 126 A27 27 0 0 1 2210 127 Z" fill="#dbe8f8"/>
<circle cx="2202" cy="153" r="15" fill="#9fd59a"/>
<path d="M2202 153 L2202 138 A15 15 0 0 1 2216 150 Z" fill="#ff8c1a"/>
<path d="M2202 153 L2216 150 A15 15 0 0 1 2206 168 Z" fill="#fcc48e"/>
<path d="M2202 153 L2206 168 A15 15 0 0 1 2189 160 Z" fill="#2e9e3a"/>
<circle cx="2202" cy="153" r="6" fill="#fff"/>
<g><rect x="2279" y="118" width="14" height="6" fill="#1f6fb5"/><rect x="2279" y="126" width="14" height="6" fill="#aac8ea"/><rect x="2279" y="134" width="14" height="6" fill="#ff8c1a"/><rect x="2279" y="142" width="14" height="6" fill="#fcc48e"/><rect x="2279" y="150" width="14" height="6" fill="#2e9e3a"/><rect x="2279" y="158" width="14" height="6" fill="#9fd59a"/></g>
<!-- bullets -->
<rect x="2307" y="118" width="18" height="3" fill="#6fa0e0"/>
<g fill="#dcdcdc"><rect x="2318" y="130" width="148" height="5"/><rect x="2318" y="143" width="148" height="5"/><rect x="2318" y="169" width="158" height="5"/><rect x="2318" y="182" width="148" height="5"/></g>
<g fill="#3f7fc0"><rect x="2318" y="131" width="145" height="2"/><rect x="2318" y="144" width="120" height="2"/><rect x="2318" y="170" width="157" height="2"/><rect x="2318" y="183" width="153" height="2"/></g>
<g stroke="#ccc" stroke-width="0.4"><line x1="2318" y1="138" x2="2466" y2="138"/><line x1="2318" y1="151" x2="2466" y2="151"/><line x1="2318" y1="164" x2="2466" y2="164"/><line x1="2318" y1="177" x2="2466" y2="177"/><line x1="2318" y1="190" x2="2466" y2="190"/></g>
<!-- waterfall -->
<rect x="2131" y="208" width="17" height="3" fill="#6fa0e0"/>
<g stroke="#eee" stroke-width="0.4"><line x1="2145" y1="234" x2="2292" y2="234"/><line x1="2145" y1="244" x2="2292" y2="244"/><line x1="2145" y1="255" x2="2292" y2="255"/><line x1="2145" y1="266" x2="2292" y2="266"/><line x1="2145" y1="277" x2="2292" y2="277"/></g>
<rect x="2150" y="265" width="14" height="12" fill="#a85c5c"/><rect x="2167" y="263" width="14" height="3" fill="#e6a8a8"/><rect x="2184" y="261" width="14" height="2" fill="#f0c0c0"/><rect x="2202" y="249" width="14" height="11" fill="#f6b8d6"/><rect x="2220" y="248" width="14" height="2" fill="#ccc"/><rect x="2238" y="247" width="14" height="1" fill="#ccc"/><rect x="2256" y="234" width="14" height="13" fill="#c6c63a"/><rect x="2274" y="234" width="14" height="43" fill="#e4e6a0"/>
<!-- stacked area -->
<rect x="2307" y="208" width="30" height="3" fill="#6fa0e0"/><rect x="2307" y="212" width="17" height="3" fill="#6fa0e0"/>
<path d="M2315 267 L2331 256 L2343 260 L2355 263 L2367 250 L2379 246 L2391 253 L2403 263 L2415 227 L2427 232 L2439 229 L2439 280 L2315 280 Z" fill="#e05c5c"/>
<path d="M2315 271 L2331 265 L2343 268 L2355 270 L2367 261 L2379 258 L2391 263 L2403 270 L2415 240 L2427 244 L2439 239 L2439 280 L2315 280 Z" fill="#a8dca0"/>
<path d="M2315 272 L2331 268 L2343 272 L2355 273 L2367 267 L2379 265 L2391 269 L2403 273 L2415 253 L2427 259 L2439 255 L2439 280 L2315 280 Z" fill="#fcc48e"/>
<path d="M2315 276 L2331 274 L2343 276 L2355 275 L2367 274 L2379 271 L2391 274 L2403 277 L2415 266 L2427 270 L2439 265 L2439 280 L2315 280 Z" fill="#4a8fcf"/>
<!-- stacked bars -->
<g><rect x="2144" y="311" width="21" height="14" fill="#e05c5c"/><rect x="2144" y="325" width="21" height="4" fill="#3aa34a"/><rect x="2144" y="329" width="21" height="12" fill="#fcc48e"/><rect x="2144" y="341" width="21" height="14" fill="#4a8fcf"/>
<rect x="2168" y="311" width="21" height="16" fill="#e05c5c"/><rect x="2168" y="327" width="21" height="14" fill="#fcc48e"/><rect x="2168" y="341" width="21" height="5" fill="#b9d1ee"/><rect x="2168" y="346" width="21" height="9" fill="#4a8fcf"/>
<rect x="2192" y="311" width="21" height="16" fill="#e05c5c"/><rect x="2192" y="327" width="21" height="16" fill="#fcc48e"/><rect x="2192" y="343" width="21" height="12" fill="#4a8fcf"/>
<rect x="2216" y="311" width="21" height="21" fill="#e05c5c"/><rect x="2216" y="332" width="21" height="10" fill="#fcc48e"/><rect x="2216" y="342" width="21" height="13" fill="#4a8fcf"/>
<rect x="2240" y="311" width="21" height="7" fill="#e05c5c"/><rect x="2240" y="318" width="21" height="12" fill="#a8dca0"/><rect x="2240" y="330" width="21" height="10" fill="#fcc48e"/><rect x="2240" y="340" width="21" height="15" fill="#4a8fcf"/></g>
<!-- pivot -->
<rect x="2303" y="295" width="65" height="7" fill="#1f6fd0"/>
<rect x="2362" y="306" width="114" height="6" fill="#1f5fc0"/><rect x="2303" y="313" width="89" height="6" fill="#1f5fc0"/><rect x="2392" y="313" width="84" height="6" fill="#7cc02e"/>
<rect x="2303" y="306" width="173" height="58" fill="none" stroke="#999" stroke-width="0.5"/>
<g font-size="3" fill="#555"><text x="2310" y="327">Australia</text><text x="2335" y="327">New South Wales</text><text x="2368" y="327">Bourke</text><text x="2400" y="327">118,297</text><text x="2440" y="327">108,247</text><text x="2368" y="335">Marrickville</text><text x="2368" y="343">Sydney</text><text x="2340" y="351">Queensland</text><text x="2368" y="351">Brisbane</text><text x="2336" y="359">South Australia</text><text x="2368" y="359">Adelaide</text></g>
<rect x="2313" y="366" width="5" height="5" fill="#1f6fd0"/>

<!-- ======= PHOTO ======= -->
<defs>
<linearGradient id="bg" x1="0" y1="0" x2="1" y2="0"><stop offset="0" stop-color="#3b4440"/><stop offset="0.45" stop-color="#2e3438"/><stop offset="0.75" stop-color="#555c60"/><stop offset="1" stop-color="#2a2d30"/></linearGradient>
<radialGradient id="spark" cx="0.5" cy="0.5" r="0.5"><stop offset="0" stop-color="#ffd060"/><stop offset="1" stop-color="#ff9020" stop-opacity="0"/></radialGradient>
</defs>
<rect x="1761" y="810" width="735" height="256" fill="url(#bg)"/>
<path d="M1761 830 C1800 830 1850 840 1880 900 L1900 960 L1860 980 L1830 920 C1810 880 1780 870 1761 870 Z" fill="#c4cab8"/>
<path d="M1761 960 C1790 990 1810 1040 1800 1066 L1761 1066 Z" fill="#b5bcab"/>
<path d="M1860 1066 C1880 1040 1920 1030 1960 1040 L1990 1066 Z" fill="#c4cab8"/>
<rect x="1880" y="870" width="30" height="80" fill="#555a5c"/><rect x="1905" y="880" width="20" height="50" fill="#9aa0a2"/>
<rect x="2035" y="873" width="48" height="147" fill="#3a8fbf" fill-opacity="0.75"/><rect x="2035" y="873" width="48" height="30" fill="#4aa8d8"/>
<g font-size="7" fill="#bfe6f8" text-anchor="middle"><text x="2059" y="920">Main</text><text x="2059" y="938" font-size="5">Dashboards</text><text x="2059" y="952">Production</text><text x="2059" y="970">Reports</text><text x="2059" y="989">Config</text><text x="2059" y="1008">Logout</text></g>
<path d="M2090 855 L2110 870 L2115 900 L2110 935" fill="none" stroke="#dff6ff" stroke-width="7"/>
<rect x="2100" y="932" width="26" height="5" fill="#dff6ff"/>
<g stroke="#6fe0f0" stroke-width="0.8"><line x1="2145" y1="890" x2="2315" y2="890"/><line x1="2145" y1="920" x2="2320" y2="920"/><polyline points="2145,905 2160,895 2175,910 2190,900 2205,912 2220,895 2235,905 2250,898 2265,912 2280,900 2295,907 2310,895" fill="none"/><polyline points="2145,900 2165,912 2185,903 2205,908 2225,900 2245,915 2265,903 2285,910 2305,902" fill="none" stroke="#40b8d8"/></g>
<g fill="none" stroke="#d8f2fa" stroke-width="1.2"><circle cx="2130" cy="996" r="8"/><circle cx="2164" cy="987" r="8"/><circle cx="2198" cy="982" r="8"/><circle cx="2226" cy="976" r="8"/></g>
<g fill="#d8f2fa"><rect x="2120" y="950" width="3" height="12"/><rect x="2125" y="954" width="3" height="8"/><rect x="2130" y="948" width="3" height="14"/><rect x="2158" y="945" width="3" height="12"/><rect x="2163" y="948" width="3" height="9"/><rect x="2192" y="940" width="3" height="12"/><rect x="2197" y="938" width="3" height="14"/><rect x="2222" y="936" width="3" height="14"/><rect x="2227" y="933" width="3" height="17"/></g>
<g stroke="#d24040" stroke-width="1.3" stroke-opacity="0.8"><line x1="1980" y1="871" x2="2320" y2="866"/><line x1="2086" y1="812" x2="2086" y2="1066"/><line x1="2033" y1="850" x2="2033" y2="1066"/><line x1="2262" y1="880" x2="2262" y2="1050"/><line x1="1900" y1="1045" x2="2250" y2="1005"/></g>
<ellipse cx="2110" cy="1050" rx="30" ry="16" fill="url(#spark)"/>
<path d="M2420 1066 L2420 950 C2430 900 2455 880 2496 870 L2496 1066 Z" fill="#1e2022"/>
<path d="M2420 830 C2440 820 2470 822 2478 850 C2480 880 2470 900 2450 905 C2430 900 2420 870 2420 830 Z" fill="#c89a80"/>
<path d="M2418 815 L2470 812 L2478 840 L2425 845 Z" fill="#1a1c1e"/>
<rect x="2350" y="1003" width="20" height="16" fill="#f2f2f2"/>
<path d="M2270 960 C2290 950 2320 960 2350 1005 L2352 1020 C2320 1025 2290 1000 2275 985 Z" fill="#d8ab90"/>

<!-- ======= ARROWS ======= -->
<defs><marker id="ah" markerWidth="8" markerHeight="8" refX="6" refY="4" orient="auto" markerUnits="strokeWidth"><path d="M0 0 L8 4 L0 8 Z" fill="#4472c4"/></marker></defs>
<g stroke="#4472c4" stroke-width="2.2" fill="none">
<line x1="1125" y1="508" x2="756" y2="219" marker-end="url(#ah)"/>
<line x1="1286" y1="541" x2="1738" y2="437" marker-end="url(#ah)"/>
<line x1="1145" y1="650" x2="772" y2="857" marker-end="url(#ah)"/>
</g>
</svg>

<div class="wo"><table>
<colgroup><col style="width:69px"><col style="width:43px"><col style="width:46px"><col style="width:26px"><col style="width:45px"><col style="width:49px"><col style="width:46px"><col style="width:43px"><col style="width:47px"><col style="width:45px"><col style="width:38px"><col style="width:39px"><col style="width:28px"><col style="width:47px"><col style="width:25px"><col style="width:27px"><col style="width:31px"><col style="width:29px"><col style="width:35px"></colgroup>
<tr><th>WO #</th><th>Production Date</th><th>Date Required</th><th>Customer name</th><th>Job cd</th><th>Item code</th><th>Item description</th><th>Qty</th><th>Qty in progress</th><th>Qty Done</th><th>Status</th><th>Product group</th><th>Product family</th><th>Mix</th><th>Packaging</th><th>S/O #</th><th>S/O line</th><th>Comp W/H</th><th>Stk W/H</th></tr>
<tr><td>8960 &nbsp; 2017-01-11</td><td>11/01/2017</td><td></td><td></td><td>NMCSBB</td><td>NatraMin Cal S 1 tonne Bulk Bag B#</td><td>31</td><td></td><td>31</td><td>COMPLETE</td><td>NatraMin</td><td>NMCS (2)</td><td>2-NMCS</td><td>BB - 1T</td><td></td><td></td><td>1. MAIN</td><td>1. MAIN</td><td>13.59</td></tr>
<tr><td>8940 &nbsp; 2017-01-09</td><td>9/01/2017</td><td></td><td></td><td>NMCSBB</td><td>NatraMin Cal S 1 tonne Bulk Bag B#</td><td>22</td><td></td><td>22</td><td>COMPLETE</td><td>NatraMin</td><td>NMCS (2)</td><td>2-NMCS</td><td>BB - 1T</td><td></td><td></td><td>1. MAIN</td><td>1. MAIN</td><td>13.59</td></tr>
<tr><td>8939 &nbsp; 2017-01-09</td><td>9/01/2017</td><td></td><td></td><td>NMCS20</td><td>NatraMin Cal S 20kg B#</td><td>56</td><td></td><td>56</td><td>COMPLETE</td><td>NatraMin</td><td>NMCS (2)</td><td>2-NMCS</td><td>20kg Bag</td><td></td><td></td><td>1. MAIN</td><td>1. MAIN</td><td>0.61</td></tr>
<tr><td>8882 &nbsp; 2017-01-06</td><td>6/01/2017</td><td></td><td></td><td>NMCSBB</td><td>NatraMin Cal S 1 tonne Bulk Bag B#</td><td>6</td><td></td><td>6</td><td>COMPLETE</td><td>NatraMin</td><td>NMCS (2)</td><td>2-NMCS</td><td>BB - 1T</td><td></td><td></td><td>1. MAIN</td><td>1. MAIN</td><td>13.59</td></tr>
<tr><td>8851 &nbsp; 2017-01-04</td><td>4/01/2017</td><td></td><td></td><td>NMCSBB</td><td>NatraMin Cal S 1 tonne Bulk Bag B#</td><td>6</td><td></td><td>6</td><td>COMPLETE</td><td>NatraMin</td><td>NMCS (2)</td><td>2-NMCS</td><td>BB - 1T</td><td></td><td></td><td>1. MAIN</td><td>1. MAIN</td><td>13.59</td></tr>
<tr><td>8830 &nbsp; 2017-01-03</td><td>3/01/2017</td><td></td><td></td><td>NMCSBB</td><td>NatraMin Cal S 1 tonne Bulk Bag B#</td><td>1</td><td></td><td>1</td><td>COMPLETE</td><td>NatraMin</td><td>NMCS (2)</td><td>2-NMCS</td><td>BB - 1T</td><td></td><td></td><td>1. MAIN</td><td>1. MAIN</td><td>13.59</td></tr>
<tr><td>982 &nbsp; 2013-09-11</td><td>11/09/2013</td><td>Arrowland Holdings Pty Ltd</td><td></td><td>NMCSBULK</td><td>NatraMin Cal S Loose Bulk</td><td>39.9</td><td></td><td>39.9</td><td>COMPLETE</td><td>NatraMin</td><td>NMCS (2)</td><td>2-NMCS</td><td>Bulk 1T</td><td>1577</td><td></td><td>1. MAIN</td><td>1. MAIN</td><td>6.827</td></tr>
<tr><td>8818 &nbsp; 2016-12-22</td><td>22/12/2016</td><td></td><td></td><td>NMCSBB</td><td>NatraMin Cal S 1 tonne Bulk Bag B#</td><td>8</td><td></td><td>8</td><td>COMPLETE</td><td>NatraMin</td><td>NMCS (2)</td><td>2-NMCS</td><td>BB - 1T</td><td></td><td></td><td>1. MAIN</td><td>1. MAIN</td><td>13.59</td></tr>
<tr><td>981 &nbsp; 2013-09-10</td><td>10/09/2013</td><td>Arrowland Holdings Pty Ltd</td><td></td><td>NMCSBULK</td><td>NatraMin Cal S Loose Bulk</td><td>40.14</td><td></td><td>40.14</td><td>COMPLETE</td><td>NatraMin</td><td>NMCS (2)</td><td>2-NMCS</td><td>Bulk 1T</td><td>1577</td><td></td><td>1. MAIN</td><td>1. MAIN</td><td>6.827</td></tr>
<tr><td>980 &nbsp; 2013-09-06</td><td>6/09/2013</td><td>Arrowland Holdings Pty Ltd</td><td></td><td>NMCSBULK</td><td>NatraMin Cal S Loose Bulk</td><td>38.86</td><td></td><td>38.86</td><td>COMPLETE</td><td>NatraMin</td><td>NMCS (2)</td><td>2-NMCS</td><td>Bulk 1T</td><td>1577</td><td></td><td>1. MAIN</td><td>1. MAIN</td><td>6.827</td></tr>
<tr><td>979 &nbsp; 2013-09-05</td><td>5/09/2013</td><td>Arrowland Holdings Pty Ltd</td><td></td><td>NMCSBULK</td><td>NatraMin Cal S Loose Bulk</td><td>39.78</td><td></td><td>39.78</td><td>COMPLETE</td><td>NatraMin</td><td>NMCS (2)</td><td>2-NMCS</td><td>Bulk 1T</td><td>1577</td><td></td><td>1. MAIN</td><td>1. MAIN</td><td>6.827</td></tr>
<tr><td>8789 &nbsp; 2016-12-22</td><td>22/12/2016</td><td></td><td></td><td>NMCS20</td><td>NatraMin Cal S 20kg B#</td><td>250</td><td></td><td>250</td><td>COMPLETE</td><td>NatraMin</td><td>NMCS (2)</td><td>2-NMCS</td><td>20kg Bag</td><td></td><td></td><td>1. MAIN</td><td>1. MAIN</td><td>0.61</td></tr>
<tr><td>8780 &nbsp; 2016-12-22</td><td>22/12/2016</td><td></td><td></td><td>NMCS20</td><td>NatraMin Cal S 20kg B#</td><td>166</td><td></td><td>166</td><td>COMPLETE</td><td>NatraMin</td><td>NMCS (2)</td><td>2-NMCS</td><td>20kg Bag</td><td></td><td></td><td>1. MAIN</td><td>1. MAIN</td><td>0.61</td></tr>
</table></div>
</body></html>
